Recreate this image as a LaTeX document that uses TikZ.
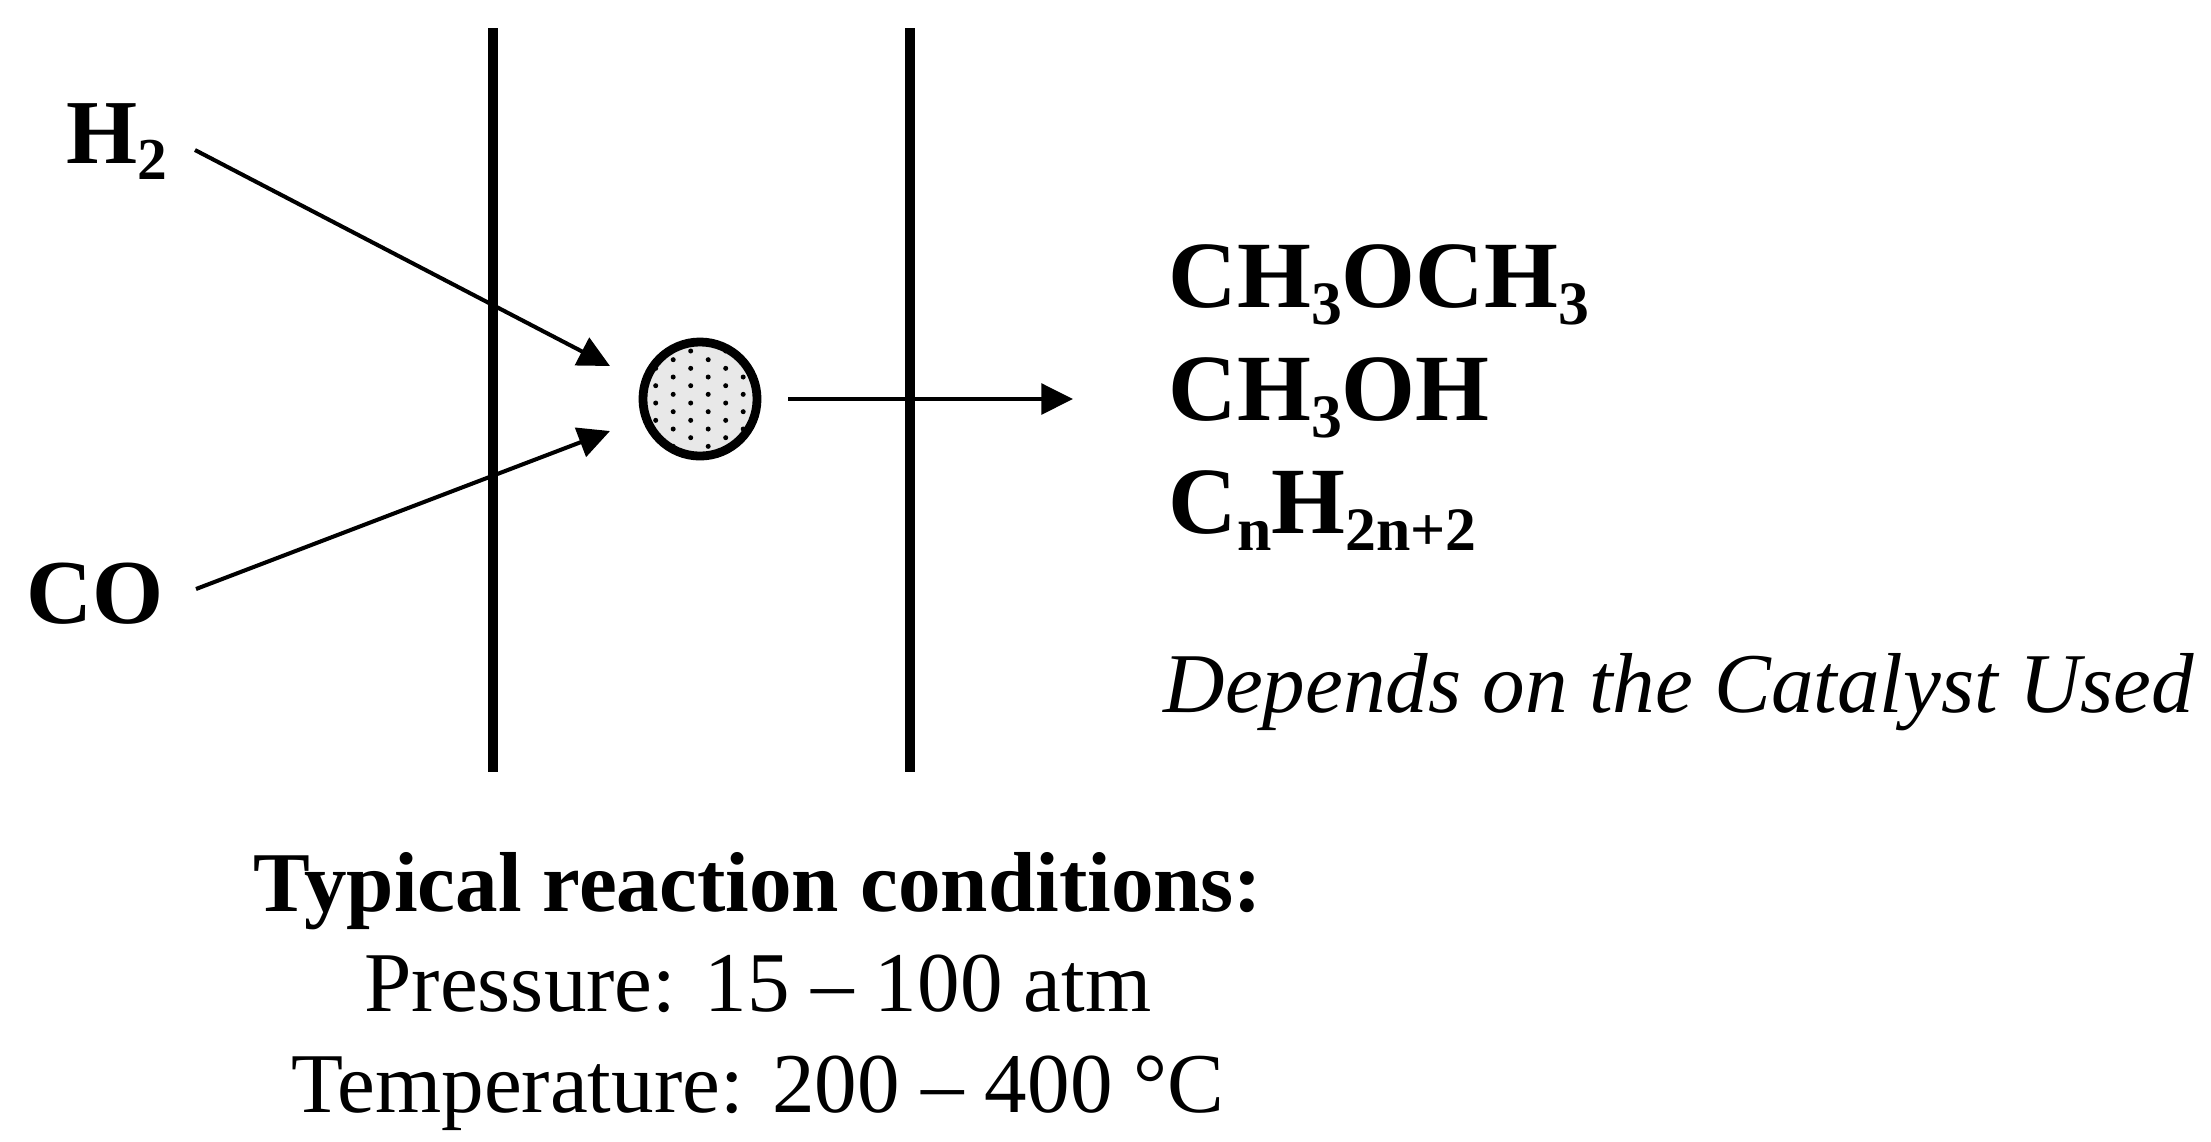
\documentclass[tikz,border=0pt]{standalone}
\usepackage{fontspec}
\setmainfont{Liberation Serif}
\usepackage{graphicx}
\usetikzlibrary{arrows.meta}
\newcommand{\csub}[1]{\raisebox{-0.18em}{\scalebox{0.65}{#1}}}
\definecolor{catfill}{gray}{0.91}
\tikzset{
  wall/.style={line width=3.1pt},
  arr/.style={line width=1.15pt, -{Triangle[length=9pt,width=8.7pt]}},
  species/.style={inner sep=0pt, anchor=base west, font=\fontsize{26}{30}\selectfont\bfseries},
  product/.style={inner sep=0pt, anchor=base west, font=\fontsize{27}{32}\selectfont\bfseries},
  note/.style={inner sep=0pt, anchor=base, font=\fontsize{24.2}{29}\selectfont},
  notebold/.style={note, font=\fontsize{24.2}{29}\selectfont\bfseries},
  noteit/.style={inner sep=0pt, anchor=base west, font=\fontsize{24.2}{29}\selectfont\itshape},
  catalyst/.style={circle, draw, line width=2.5pt, fill=catfill, minimum size=1.14cm, inner sep=0pt},
}
\begin{document}
\begin{tikzpicture}[x=0.01cm,y=-0.01cm]
\path[use as bounding box, fill=white] (0,0) rectangle (2211,1141);
% walls
\draw[wall] (493,28) -- (493,772);
\draw[wall] (910,28) -- (910,772);
% reactants
\node[species] (h2) at (66,163) {H\csub{2}};
\node[species] (co) at (26,623) {CO};
% catalyst particle
\node[catalyst] (cat) at (700,399) {};
\begin{scope}
  \clip (cat.center) circle (0.53cm);
  \foreach \j in {0,...,11} {
    \ifodd\j\def\off{-17.5}\else\def\off{0}\fi
    \foreach \k in {-2,...,2}
      \fill ({690.7+\off+35*\k},{351+8.667*\j}) circle (0.025cm);
  }
\end{scope}
% arrows
\coordinate (h2tail) at (195,150);
\coordinate (h2tip) at (610,366);
\coordinate (cotail) at (196,589);
\coordinate (cotip) at (610,431);
\coordinate (outtip) at (1073,399);
\draw[arr] (h2tail) -- (h2tip);
\draw[arr] (cotail) -- (cotip);
\draw[arr] ([xshift=0.27cm]cat.east) -- (outtip);
% products
\node[product] (p1) at (1168,307) {CH\csub{3}OCH\csub{3}};
\node[product] (p2) at (1168,420) {CH\csub{3}OH};
\node[product] (p3) at (1168,533) {C\csub{n}H\csub{2n+2}};
\node[noteit] (dep) at (1163,712) {Depends on the Catalyst Used};
% conditions
\node[notebold] (cond) at (758,911) {Typical reaction conditions:};
\node[note] (pres) at (758,1011) {Pressure: 15 -- 100 atm};
\node[note] (temp) at (758,1112) {Temperature: 200 -- 400 °C};
\end{tikzpicture}
\end{document}
